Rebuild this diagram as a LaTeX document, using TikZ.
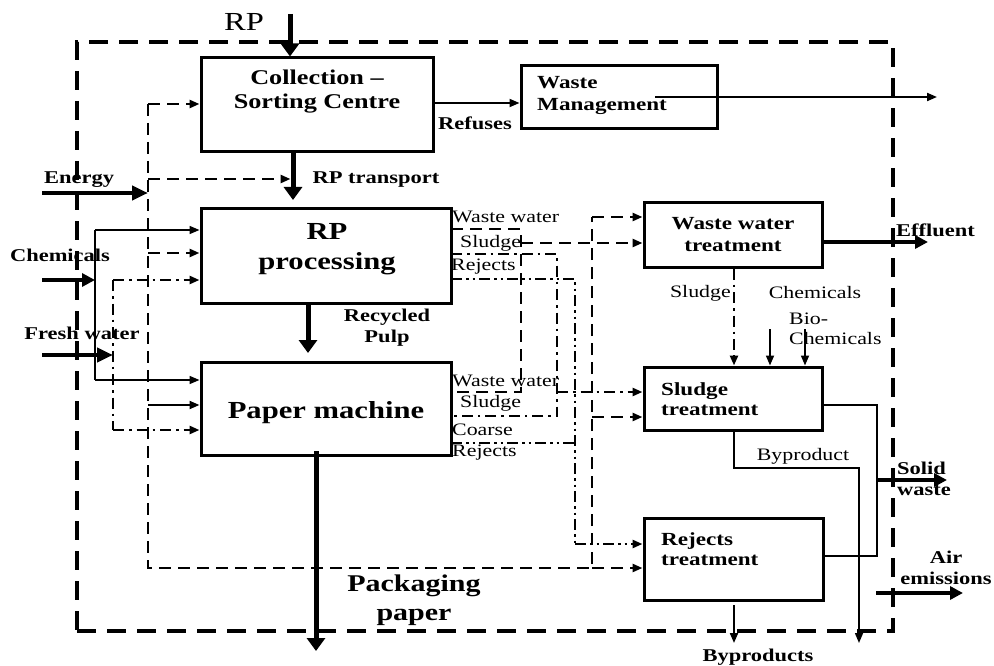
\documentclass[tikz,border=0pt]{standalone}
\usepackage{fontspec}
\setmainfont{Liberation Serif}[FakeStretch=1.25]
\usetikzlibrary{arrows.meta}
\begin{document}
\begin{tikzpicture}[x=1pt,y=-1pt,
  box/.style={draw, line width=3pt, inner sep=0pt},
  border/.style={draw, line width=4.5pt, dash pattern=on 19pt off 11pt},
  bigarr/.style={line width=5pt, -{Triangle[length=13pt,width=18pt]}},
  medarr/.style={line width=4pt, -{Triangle[length=13pt,width=13pt]}},
  tip/.style={-{Triangle[length=10pt,width=8pt]}},
  thinln/.style={line width=1.5pt},
  edash/.style={line width=2.6pt, dash pattern=on 12pt off 7pt},
  ddot/.style={line width=2.6pt, dash pattern=on 11pt off 5pt on 2.5pt off 5pt},
  dddot/.style={line width=2.6pt, dash pattern=on 11pt off 4pt on 2.5pt off 4pt on 2.5pt off 4pt},
  lbl/.style={font=\bfseries\fontsize{18}{21}\selectfont, inner sep=0pt, align=center},
  rlbl/.style={font=\fontsize{17.5}{20}\selectfont, inner sep=0pt, align=left},
  boxtxt/.style={font=\bfseries\fontsize{18.5}{22}\selectfont, inner sep=0pt, align=center},
  bigtxt/.style={font=\bfseries\fontsize{24.5}{30}\selectfont, inner sep=0pt, align=center}
]
\useasboundingbox (0,0) rectangle (994,666);

% system boundary
\node[border, minimum width=816pt, minimum height=589pt] (sys) at (485,336.5) {};

% boxes
\node[box, minimum width=232pt, minimum height=94pt] (coll) at (317,105) {};
\node[boxtxt, font=\bfseries\fontsize{21}{24}\selectfont] (colltxt) at (317,92) {Collection –\\Sorting Centre};
\node[box, minimum width=196pt, minimum height=63pt] (wm) at (619,97.5) {};
\node[boxtxt, anchor=west, align=left] (wmtxt) at (537,95) {Waste\\Management};
\node[box, minimum width=250pt, minimum height=94pt] (rpp) at (326,256) {};
\node[bigtxt] (rpptxt) at (327,249) {RP\\processing};
\node[box, minimum width=250pt, minimum height=93pt] (pm) at (326,408.5) {};
\node[bigtxt] (pmtxt) at (326,413) {Paper machine};
\node[box, minimum width=178pt, minimum height=64pt] (wwt) at (733,235) {};
\node[boxtxt] (wwttxt) at (733,235) {Waste water\\treatment};
\node[box, minimum width=178pt, minimum height=63pt] (st) at (733,398.5) {};
\node[boxtxt, anchor=west, align=left, font=\bfseries\fontsize{18.5}{20}\selectfont] (sttxt) at (661,399) {Sludge\\treatment};
\node[box, minimum width=179pt, minimum height=82pt] (rt) at (733.5,559) {};
\node[boxtxt, anchor=west, align=left, font=\bfseries\fontsize{18.5}{20}\selectfont] (rttxt) at (661,549) {Rejects\\treatment};

% RP input
\coordinate (rpin) at (290,14);
\node[font=\fontsize{26}{30}\selectfont, inner sep=0pt] (rplbl) at (244,22) {RP};
\draw[bigarr] (rpin) -- (rpin |- coll.north);

% RP transport
\coordinate (rptend) at (293,200);
\draw[bigarr] (coll.south -| rptend) -- (rptend);
\node[lbl] (rptlbl) at (376,180) {RP transport};

% Refuses
\coordinate (refa) at (433,103);
\draw[line width=1.8pt, tip] (refa) -- (refa -| wm.west);
\node[lbl, anchor=west] (reflbl) at (438,123) {Refuses};
\coordinate (wmo) at (655,97);
\coordinate (wmend) at (937,97);
\draw[line width=2pt, tip] (wmo) -- (wmend);

% Recycled pulp
\coordinate (rpx) at (308,0);
\coordinate (rpend) at (308,353);
\draw[bigarr] (rpp.south -| rpx) -- (rpend);
\node[lbl] (rplbl2) at (387,328) {Recycled\\Pulp};

% Packaging paper
\coordinate (ppa) at (316,451);
\coordinate (ppb) at (316,651);
\draw[bigarr] (ppa) -- (ppb);
\node[bigtxt, font=\bfseries\fontsize{24}{29}\selectfont] (pplbl) at (414,600) {Packaging\\paper};

% Energy
\node[lbl, anchor=west] (energy) at (44,180) {Energy};
\coordinate (ein) at (42,193);
\coordinate (ebus) at (148,193);
\draw[medarr, line width=4.5pt, -{Triangle[length=16pt,width=14pt]}] (ein) -- (ebus);
\coordinate (e1) at (148,104);
\coordinate (e2) at (148,179);
\coordinate (e3) at (148,253);
\coordinate (e4) at (148,405);
\coordinate (e5) at (148,568);
\coordinate (e6) at (592,568);
\coordinate (e7) at (592,217);
\coordinate (e8) at (592,417);
\draw[edash] (e1) -- (e5) -- (e6) -- (e7);
\draw[edash, tip] (e1) -- (e1 -| coll.west);
\draw[edash, tip] (e2) -- (290.5,179);
\draw[edash, tip] (e3) -- (e3 -| rpp.west);
\draw[line width=2pt, tip] (e4) -- (e4 -| pm.west);
\draw[edash, tip] (e7) -- (e7 -| wwt.west);
\draw[edash, tip] (e8) -- (e8 -| st.west);
\draw[edash, tip] (e6) -- (e6 -| rt.west);

% Chemicals
\node[lbl] (chem) at (60,255) {Chemicals};
\coordinate (cin) at (42,280);
\coordinate (cbus) at (95,280);
\draw[medarr, line width=4.5pt] (cin) -- (cbus);
\coordinate (c1) at (95,230);
\coordinate (c2) at (95,380);
\draw[thinln] (c1) -- (c2);
\draw[thinln, tip] (c1) -- (c1 -| rpp.west);
\draw[thinln, tip] (c2) -- (c2 -| pm.west);

% Fresh water
\node[lbl] (fw) at (82,333) {Fresh water};
\coordinate (fin) at (42,355);
\coordinate (fbus) at (113,355);
\draw[medarr, line width=4.5pt, -{Triangle[length=16pt,width=14pt]}] (fin) -- (fbus);
\coordinate (f1) at (113,280);
\coordinate (f2) at (113,430);
\draw[ddot] (f1) -- (f2);
\draw[ddot, tip] (f1) -- (f1 -| rpp.west);
\draw[ddot, tip] (f2) -- (f2 -| pm.west);

% outputs of RP processing and paper machine
\coordinate (w1) at (451,229);
\coordinate (w2) at (521,229);
\coordinate (w3) at (521,392);
\coordinate (w4) at (451,392);
\coordinate (w5) at (521,243);
\draw[edash] (w1) -- (w2) -- (w3) -- (w4);
\draw[edash, tip] (w5) -- (w5 -| wwt.west);

\coordinate (s1) at (451,254);
\coordinate (s2) at (557,254);
\coordinate (s3) at (557,416);
\coordinate (s4) at (451,416);
\coordinate (s5) at (557,392);
\draw[ddot] (s1) -- (s2) -- (s3) -- (s4);
\draw[ddot, tip] (s5) -- (s5 -| st.west);

\coordinate (j1) at (451,279);
\coordinate (j2) at (575,279);
\coordinate (j3) at (575,544);
\coordinate (j4) at (451,443);
\coordinate (j5) at (575,443);
\draw[dddot] (j1) -- (j2) -- (j3);
\draw[dddot] (j4) -- (j5);
\draw[dddot, tip] (j3) -- (j3 -| rt.west);

\node[rlbl, anchor=west] (l1) at (452,217) {Waste water};
\node[rlbl, anchor=west] (l2) at (460,243) {Sludge};
\node[rlbl, anchor=west] (l3) at (451,267) {Rejects};
\node[rlbl, anchor=west] (l4) at (452,381) {Waste water};
\node[rlbl, anchor=west] (l5) at (460,403) {Sludge};
\node[rlbl, anchor=west] (l6) at (452,430) {Coarse};
\node[rlbl, anchor=west] (l7) at (452,453) {Rejects};

% Effluent
\coordinate (effend) at (928,242);
\draw[medarr] (wwt.east |- effend) -- (effend);
\node[lbl, anchor=west] (eff) at (896,230) {Effluent};

% sludge from WWT
\coordinate (sx) at (734,0);
\draw[ddot, tip] (wwt.south -| sx) -- (st.north -| sx);
\node[rlbl, anchor=east] (sl) at (731,293) {Sludge};
\node[rlbl] (ch2) at (815,293) {Chemicals};
\node[rlbl, anchor=west] (bio) at (789,329) {Bio-\\Chemicals};
\coordinate (a1) at (770,329);
\coordinate (a2) at (805,329);
\draw[line width=1.7pt, tip] (a1) -- (a1 |- st.north);
\draw[line width=1.7pt, tip] (a2) -- (a2 |- st.north);

% solid waste
\coordinate (sw1) at (877,405);
\coordinate (sw2) at (877,556);
\coordinate (sw3) at (877,480);
\coordinate (swend) at (947,480);
\draw[line width=2.2pt] (st.east |- sw1) -- (sw1) -- (sw2) -- (rt.east |- sw2);
\draw[medarr] (sw3) -- (swend);
\node[lbl, anchor=west, align=left] (sw) at (897,479) {Solid\\waste};

% byproduct
\coordinate (b1) at (734,468);
\coordinate (b2) at (859,468);
\coordinate (b3) at (859,643);
\draw[thinln, tip] (st.south -| b1) -- (b1) -- (b2) -- (b3);
\node[rlbl] (bp) at (803,456) {Byproduct};

\coordinate (rb1) at (734,605);
\coordinate (rb2) at (734,643);
\draw[line width=2pt, tip] (rb1) -- (rb2);
\node[lbl] (bps) at (758,657) {Byproducts};

% air emissions
\coordinate (ae1) at (876,593);
\coordinate (ae2) at (963,593);
\draw[medarr] (ae1) -- (ae2);
\node[lbl] (air) at (946,568) {Air\\emissions};
\end{tikzpicture}
\end{document}
